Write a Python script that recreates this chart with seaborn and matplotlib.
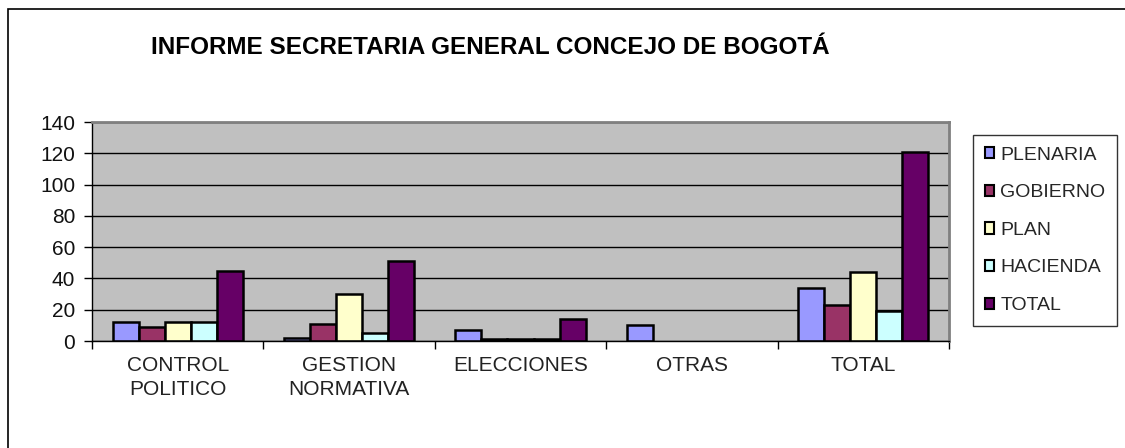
import matplotlib
matplotlib.use("Agg")
import matplotlib.pyplot as plt
import seaborn as sns
import pandas as pd
from matplotlib.patches import Rectangle

categories = ["CONTROL\nPOLITICO", "GESTION\nNORMATIVA", "ELECCIONES", "OTRAS", "TOTAL"]
series = ["PLENARIA", "GOBIERNO", "PLAN", "HACIENDA", "TOTAL"]
plenaria = [12, 2, 7, 10, 34]
gobierno = [9, 11, 1, 0, 23]
plan = [12, 30, 1, 0, 44]
hacienda = [12, 5, 1, 0, 19]
total = [45, 51, 14, 0, 121]
colors = ["#9999FF", "#993366", "#FFFFCC", "#CCFFFF", "#660066"]
yticks = [0, 20, 40, 60, 80, 100, 120, 140]
title = "INFORME SECRETARIA GENERAL CONCEJO DE BOGOTÁ"

rows = []
for s, vals in zip(series, [plenaria, gobierno, plan, hacienda, total]):
    for c, v in zip(categories, vals):
        rows.append({"cat": c, "serie": s, "val": v})
df = pd.DataFrame(rows)

sns.set_theme(style="white")
plt.rcParams["font.family"] = ["Liberation Sans", "DejaVu Sans"]

fig = plt.figure(figsize=(11.25, 4.48), dpi=100)
fig.patch.set_facecolor("white")
ax = fig.add_axes([92 / 1125, 1 - 341 / 448, 857 / 1125, 219 / 448])

sns.barplot(data=df, x="cat", y="val", hue="serie", order=categories,
            hue_order=series, palette=colors, width=0.76, saturation=1,
            edgecolor="black", linewidth=1.8, ax=ax, legend=True, errorbar=None)

for p in ax.patches:
    if p.get_height() == 0:
        p.set_linewidth(0)

ax.set_facecolor("#C0C0C0")
ax.set_ylim(0, 140)
ax.set_xlim(-0.5, len(categories) - 0.5)
ax.set_yticks(yticks)
ax.set_yticklabels([str(t) for t in yticks], fontsize=15, color="#111111")
ax.yaxis.grid(True, color="black", linewidth=1)
ax.set_axisbelow(True)
ax.set_xlabel("")
ax.set_ylabel("")

ax.set_xticks([i + 0.5 for i in range(-1, len(categories))], minor=False)
ax.set_xticklabels([])
ax.set_xticks(range(len(categories)), minor=True)
ax.set_xticklabels(categories, minor=True, fontsize=15, color="#222222",
                   linespacing=1.3)
ax.tick_params(axis="x", which="minor", length=0, pad=11)
ax.tick_params(axis="x", which="major", length=6, width=1, color="black",
               direction="out", bottom=True)
ax.tick_params(axis="y", length=6, width=1, color="black", direction="out",
               left=True, pad=6)

for side in ["top", "right"]:
    ax.spines[side].set_color("#808080")
    ax.spines[side].set_linewidth(2)
ax.spines["left"].set_color("black")
ax.spines["bottom"].set_color("black")
ax.spines["left"].set_linewidth(1)
ax.spines["bottom"].set_linewidth(1)

leg = ax.legend(loc="upper left", bbox_to_anchor=(973 / 1125, 1 - 135 / 448),
                bbox_transform=fig.transFigure, frameon=True, fancybox=False,
                fontsize=14, handlelength=0.5, handleheight=0.5,
                handletextpad=0.3, labelspacing=1.06, borderpad=0.6,
                borderaxespad=0)
leg.get_frame().set_edgecolor("black")
leg.get_frame().set_linewidth(1)
for h in leg.legend_handles:
    h.set_linewidth(1.5)
    h.set_edgecolor("black")

fig.text(490 / 1125, 1 - 47 / 448, title, ha="center", va="center",
         fontsize=17.5, fontweight="bold", color="black")

fig.add_artist(Rectangle((8 / 1125, -0.1), 1.2, 1 - 9 / 448 + 0.1,
                         transform=fig.transFigure, fill=False,
                         edgecolor="black", linewidth=1.2))

fig.savefig("out.png", dpi=100)
